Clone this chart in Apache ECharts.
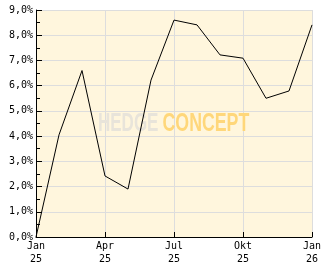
<!DOCTYPE html>
<html><head><meta charset="utf-8">
<script src="https://cdn.jsdelivr.net/npm/echarts@6/dist/echarts.min.js"></script>
<style>html,body{margin:0;padding:0;background:#fff}#c{width:332px;height:269px}</style>
</head><body><div id="c"></div>
<script>
const months = ['Jan\n25','Feb\n25','Mär\n25','Apr\n25','Mai\n25','Jun\n25','Jul\n25','Aug\n25','Sep\n25','Okt\n25','Nov\n25','Dez\n25','Jan\n26'];
const values = [0.0, 4.05, 6.6, 2.42, 1.9, 6.22, 8.6, 8.41, 7.22, 7.09, 5.5, 5.79, 8.41];
const yMin = 0, yMax = 9, yStep = 1;
const font = 'DejaVu Sans Mono';
const chart = echarts.init(document.getElementById('c'), null, {renderer:'canvas'});
chart.setOption({
  animation:false,
  grid:{left:36,top:10,right:20,bottom:32,show:true,backgroundColor:'#fff6dd',borderWidth:0},
  xAxis:{type:'category',data:months,boundaryGap:false,
    axisLine:{show:true,lineStyle:{color:'#000',width:1}},
    axisTick:{show:true,inside:true,length:5,interval:2,lineStyle:{color:'#000'}},
    axisLabel:{interval:2,color:'#000',fontFamily:font,fontSize:10,lineHeight:13,margin:3},
    splitLine:{show:true,interval:2,lineStyle:{color:'#dddddd',width:1}}},
  yAxis:{type:'value',min:yMin,max:yMax,interval:yStep,
    axisLine:{show:true,lineStyle:{color:'#000',width:1}},
    axisTick:{show:true,inside:true,length:6,lineStyle:{color:'#000'}},
    minorTick:{show:true,splitNumber:2,length:4,lineStyle:{color:'#000'}},
    axisLabel:{color:'#000',fontFamily:font,fontSize:10,margin:3,
      formatter:v=>v.toFixed(1).replace('.',',')+'%'},
    splitLine:{show:true,lineStyle:{color:'#dddddd',width:1}}},
  graphic:[
    {type:'text',x:98,y:124,scaleX:0.68,silent:true,z:1,
      style:{text:'HEDGE',font:'bold 25px "Liberation Sans"',fill:'#e8e4da',textVerticalAlign:'middle'}},
    {type:'text',x:162.5,y:124,scaleX:0.71,silent:true,z:1,
      style:{text:'CONCEPT',font:'bold 25px "Liberation Sans"',fill:'#ffd77a',textVerticalAlign:'middle'}}
  ],
  series:[{type:'line',data:values,symbol:'none',z:5,
    lineStyle:{color:'#000',width:1}}]
});
</script></body></html>
